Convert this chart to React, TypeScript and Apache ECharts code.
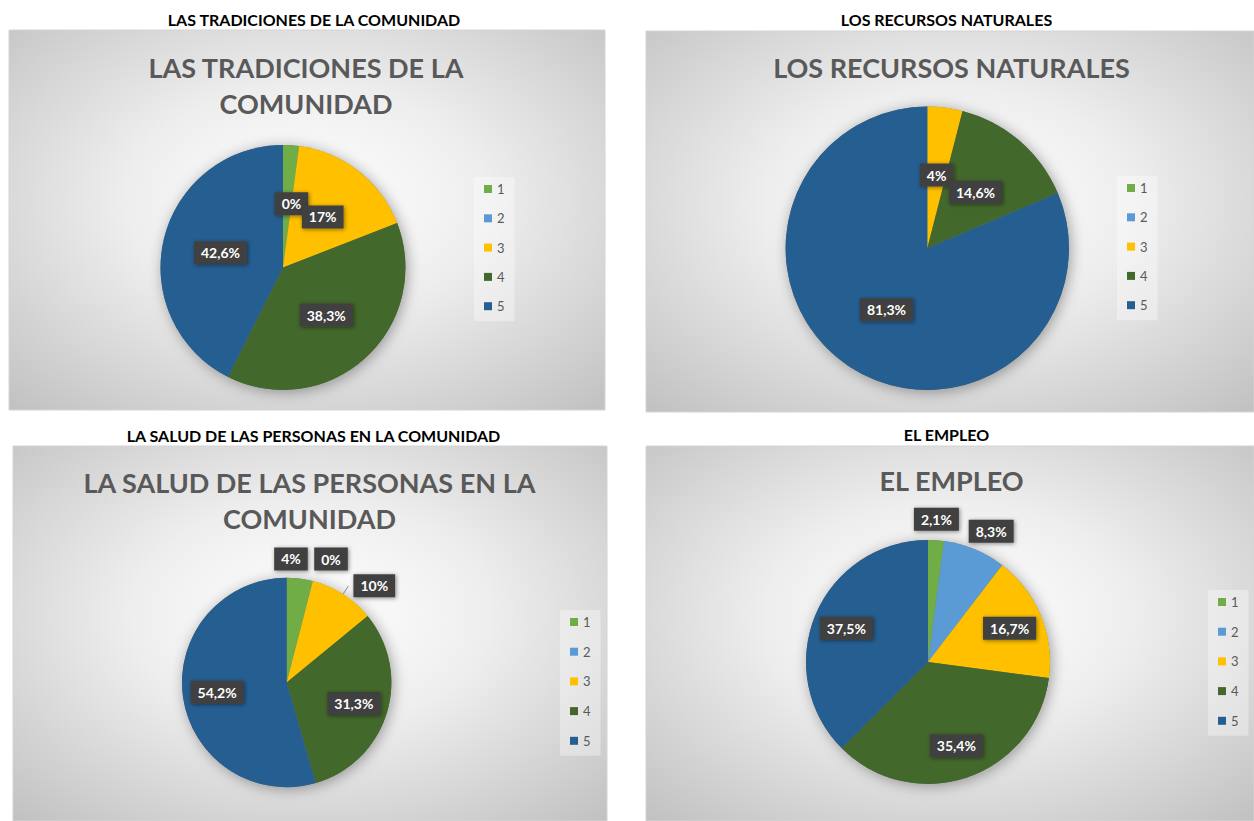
import React, { useEffect, useRef } from 'react';
import * as echarts from 'echarts';

// ---- data ----
const categories = ['1', '2', '3', '4', '5'];
const tradiciones = [2.1, 0, 17, 38.3, 42.6];
const recursos = [0, 0, 4, 14.6, 81.3];
const salud = [4, 0, 10, 31.3, 54.2];
const empleo = [2.1, 8.3, 16.7, 35.4, 37.5];

const headers = [
  'LAS TRADICIONES DE LA COMUNIDAD',
  'LOS RECURSOS NATURALES',
  'LA SALUD DE LAS PERSONAS EN LA COMUNIDAD',
  'EL EMPLEO',
];
const titles = [
  'LAS TRADICIONES DE LA\nCOMUNIDAD',
  'LOS RECURSOS NATURALES',
  'LA SALUD DE LAS PERSONAS EN LA\nCOMUNIDAD',
  'EL EMPLEO',
];

// ---- style / layout ----
const colors = ['#70AD47', '#5B9BD5', '#FFC000', '#43682B', '#255E91'];
const FONT = 'Lato, "Open Sans", sans-serif';

type Shift = { k?: number; dx?: number; dy?: number };
type Panel = {
  values: number[];
  box: [number, number, number, number];
  header: [number, number];
  title: [number, number];
  center: [number, number];
  r: number;
  legend: [number, number];
  legendGap: number;
  hidden: number[];
  outside: number[];
  shift: Record<number, Shift>;
};

const panels: Panel[] = [
  {
    values: tradiciones, box: [9, 30, 596, 380], header: [314, 19], title: [306, 85],
    center: [283, 267.5], r: 122.5, legend: [474, 177], legendGap: 15.3, hidden: [0], outside: [], shift: {},
  },
  {
    values: recursos, box: [646, 31, 608, 381], header: [946.5, 19], title: [951.5, 67],
    center: [927.3, 248.3], r: 141.7, legend: [1117, 176], legendGap: 15.3, hidden: [0, 1], outside: [], shift: {},
  },
  {
    values: salud, box: [13, 446, 594, 375], header: [313.5, 435], title: [309.5, 500],
    center: [286.7, 682.5], r: 104.7, legend: [560, 610], legendGap: 15.7, hidden: [], outside: [2],
    shift: { 0: { dx: -2.7, dy: -68.6 }, 1: { dx: 30.5, dy: -69.8 }, 3: { k: 1.27 }, 4: { k: 1.27 } },
  },
  {
    values: empleo, box: [646, 446, 608, 375], header: [946.5, 434], title: [951.6, 480],
    center: [928, 662], r: 122, legend: [1208, 590], legendGap: 15.7, hidden: [], outside: [],
    shift: { 0: { dx: 4.2, dy: -79 }, 1: { dx: 38.7, dy: -71.6 }, 2: { k: 1.38 }, 3: { k: 1.38 }, 4: { k: 1.38 } },
  },
];

const fmt = (v: number) => String(v).replace('.', ',') + '%';

function buildOption() {
  const graphic: any[] = [];
  panels.forEach((p, i) => {
    const [x, y, w, h] = p.box;
    graphic.push({
      type: 'rect', z: 0, silent: true,
      shape: { x, y, width: w, height: h },
      style: {
        fill: new echarts.graphic.RadialGradient(0.5, 0.45, 0.75, [
          { offset: 0, color: '#ffffff' },
          { offset: 0.4, color: '#eeeeee' },
          { offset: 1, color: '#c0c0c0' },
        ]),
        stroke: '#d4d4d4', lineWidth: 1,
      },
    });
    graphic.push({
      type: 'circle', z: 1, silent: true,
      shape: { cx: p.center[0], cy: p.center[1], r: p.r },
      style: { fill: '#777', shadowBlur: 14, shadowColor: 'rgba(0,0,0,0.35)', shadowOffsetX: 2, shadowOffsetY: 2 },
    });
    graphic.push({
      type: 'text', z: 2, silent: true, x: p.header[0], y: p.header[1],
      style: {
        text: headers[i], fill: '#000', fontSize: 16, fontWeight: 'bold', fontFamily: FONT,
        align: 'center', verticalAlign: 'middle', textAlign: 'center', textVerticalAlign: 'middle',
      },
    });
    graphic.push({
      type: 'text', z: 2, silent: true, x: p.title[0], y: p.title[1],
      style: {
        text: titles[i], fill: '#595959', fontSize: 27, fontWeight: 'bold', fontFamily: FONT, lineHeight: 36,
        align: 'center', verticalAlign: 'middle', textAlign: 'center', textVerticalAlign: 'middle',
      },
    });
  });

  const series = panels.map((p) => ({
    type: 'pie',
    z: 3,
    center: p.center,
    radius: p.r,
    startAngle: 90,
    clockwise: true,
    avoidLabelOverlap: false,
    color: colors,
    itemStyle: { borderWidth: 0 },
    emphasis: { disabled: true },
    label: {
      show: true,
      position: 'inside',
      formatter: (d: any) => fmt(d.value),
      color: '#ffffff',
      fontFamily: FONT,
      fontWeight: 'bold',
      fontSize: 14,
      backgroundColor: '#404040',
      padding: [5, 7, 4, 7],
      shadowBlur: 4,
      shadowColor: 'rgba(0,0,0,0.45)',
      shadowOffsetX: 1,
      shadowOffsetY: 1,
    },
    labelLine: { show: false },
    labelLayout: (params: any) => {
      const s = p.shift[params.dataIndex];
      if (!s) return {};
      const rect = params.labelRect;
      const lx = rect.x + rect.width / 2 - p.center[0];
      const ly = rect.y + rect.height / 2 - p.center[1];
      const k = s.k ?? 1;
      return { dx: lx * (k - 1) + (s.dx || 0), dy: ly * (k - 1) + (s.dy || 0) };
    },
    data: categories.map((c, j) => {
      const item: any = { name: c, value: p.values[j] };
      if (p.hidden.includes(j)) item.label = { show: false };
      if (p.outside.includes(j)) {
        item.label = { position: 'outside' };
        item.labelLine = { show: true, length: 10, length2: 0, lineStyle: { color: '#8c8c8c', width: 1 } };
      }
      return item;
    }),
  }));

  const legend = panels.map((p) => ({
    orient: 'vertical',
    left: p.legend[0],
    top: p.legend[1],
    padding: [5, 10, 8, 10],
    itemWidth: 8,
    itemHeight: 8,
    itemGap: p.legendGap,
    itemTextGap: 4,
    icon: 'rect',
    selectedMode: false,
    data: categories,
    backgroundColor: 'rgba(255,255,255,0.35)',
    textStyle: { fontSize: 13, color: '#595959', fontFamily: FONT, lineHeight: 14 },
  }));

  return {
    animation: false,
    backgroundColor: '#ffffff',
    color: colors,
    graphic: { elements: graphic },
    legend,
    series,
  };
}

export default function App() {
  const ref = useRef<HTMLDivElement>(null);
  useEffect(() => {
    if (!ref.current) return;
    const chart = echarts.init(ref.current, undefined, { renderer: 'svg' });
    chart.setOption(buildOption() as any);
    return () => chart.dispose();
  }, []);
  return (
    <div
      ref={ref}
      style={{ position: 'absolute', left: 0, top: 0, width: 1254, height: 821 }}
    />
  );
}
